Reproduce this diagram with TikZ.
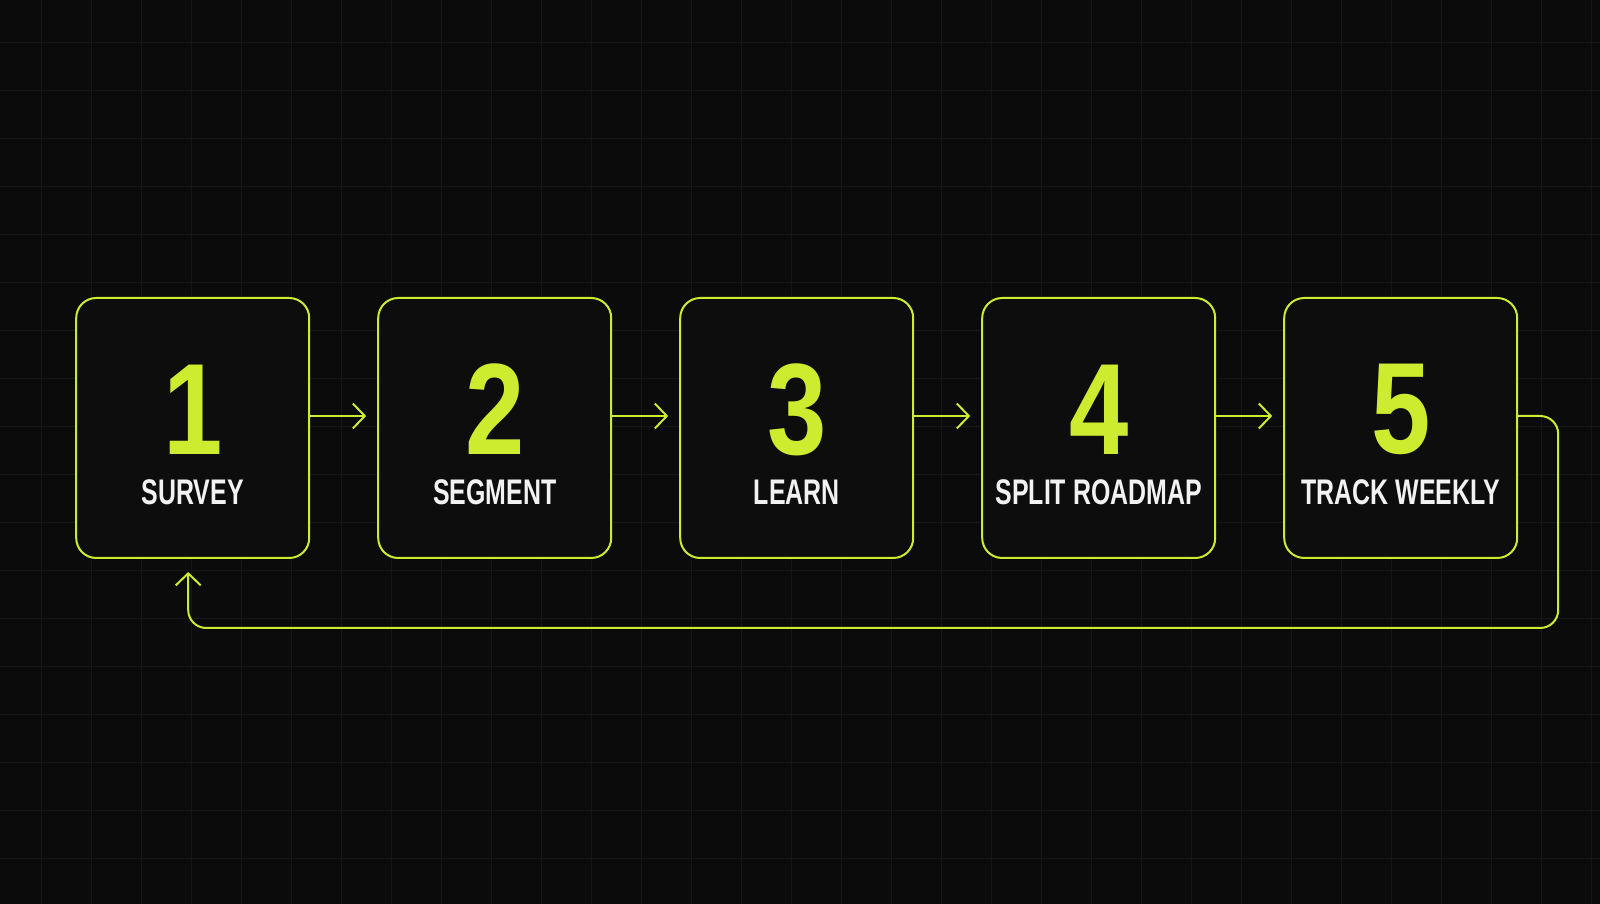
\documentclass[tikz,border=0pt]{standalone}
\usepackage{fontspec}
\usetikzlibrary{positioning, arrows.meta}
\newfontfamily\numfont[FakeStretch=0.82]{Liberation Sans}
\newfontfamily\labelfont[FakeStretch=0.70]{Liberation Sans}
\definecolor{lime_green}	{RGB}{205,236,48}
\definecolor{off_white}		{RGB}{242,242,242}
\definecolor{bg_black}		{RGB}{11,11,11}
\definecolor{grid_grey}		{RGB}{22,22,22}
\definecolor{box_black}		{RGB}{13,13,13}

\begin{document}
\begin{tikzpicture}[
		x               = 1pt,
		y               = 1pt,
		node distance   = 67pt,
		stepbox/.style  = {draw = lime_green,
			rectangle,
			fill           = box_black,
			rounded corners = 20pt,
			line width     = 2pt,
			inner sep      = 0pt,
			minimum width  = 233pt,
			minimum height = 260pt},
		numtext/.style  = {text = lime_green,
			inner sep      = 0pt,
			font = \numfont\bfseries\fontsize{130}{130}\selectfont},
		labeltext/.style = {text = off_white,
			inner sep      = 0pt,
			font = \labelfont\bfseries\fontsize{35.6}{36}\selectfont},
		flowarrow/.style = {draw = lime_green,
			line width     = 2pt,
			-{Straight Barb[length=12pt, width=25pt]}},
		gridline/.style = {draw = grid_grey,
			line width     = 1pt}]
		
		% background and faint grid
		\fill[bg_black] (0,0) rectangle (1600,904);
		\begin{scope}
			\clip (0,0) rectangle (1600,904);
			\draw[gridline, shift={(41.7,45)}] (-50,-50) grid[xstep=50pt, ystep=48pt] (1600,900);
		\end{scope}
		\useasboundingbox (0,0) rectangle (1600,904);
		
		\node[stepbox] (b1) at (192.7,476) {};
		\node[stepbox] (b2) [right=of b1] {};
		\node[stepbox] (b3) [right=of b2] {};
		\node[stepbox] (b4) [right=of b3] {};
		\node[stepbox] (b5) [right=of b4] {};
		
		\node[numtext] (n1) at ([yshift=18.5pt]b1.center) {1};
		\node[numtext] (n2) at ([yshift=18.5pt]b2.center) {2};
		\node[numtext] (n3) at ([yshift=18.5pt]b3.center) {3};
		\node[numtext] (n4) at ([yshift=18.5pt]b4.center) {4};
		\node[numtext] (n5) at ([yshift=18.5pt]b5.center) {5};
		
		\node[labeltext] (l1) at ([yshift=-64.5pt]b1.center) {SURVEY};
		\node[labeltext] (l2) at ([yshift=-64.5pt]b2.center) {SEGMENT};
		\node[labeltext] (l3) at ([yshift=-64.5pt]b3.center) {LEARN};
		\node[labeltext] (l4) at ([yshift=-64.5pt]b4.center) {SPLIT ROADMAP};
		\node[labeltext] (l5) at ([yshift=-64.5pt]b5.center) {TRACK WEEKLY};
		
		\draw[flowarrow] ([yshift=12pt]b1.east) -- ([xshift=-11pt, yshift=12pt]b2.west);
		\draw[flowarrow] ([yshift=12pt]b2.east) -- ([xshift=-11pt, yshift=12pt]b3.west);
		\draw[flowarrow] ([yshift=12pt]b3.east) -- ([xshift=-11pt, yshift=12pt]b4.west);
		\draw[flowarrow] ([yshift=12pt]b4.east) -- ([xshift=-11pt, yshift=12pt]b5.west);
		
		% loop back from the last step to the first
		\draw[flowarrow, rounded corners=18pt] ([yshift=12pt]b5.east)
			-| ([xshift=40pt, yshift=-69pt]b5.south east)
			-| ([xshift=-4.5pt, yshift=-13pt]b1.south);
		
	\end{tikzpicture}
\end{document}
